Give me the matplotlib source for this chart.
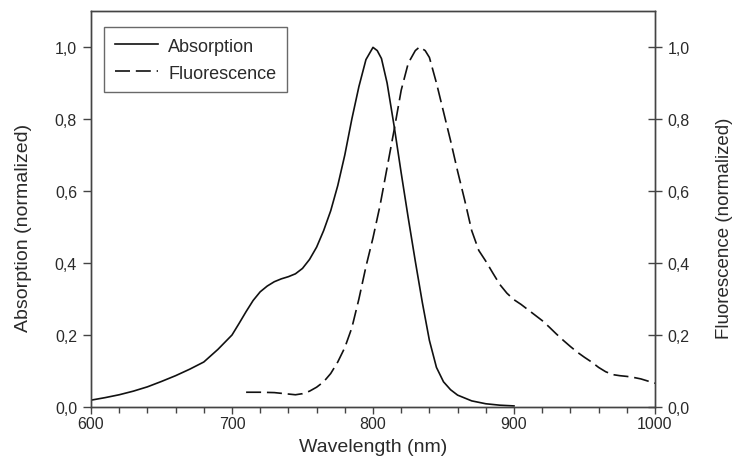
import matplotlib
matplotlib.use("Agg")
import matplotlib.pyplot as plt
from matplotlib.ticker import MultipleLocator

plt.rcParams['font.family'] = ['Liberation Sans', 'DejaVu Sans']

abs_wl = [600, 610, 620, 630, 640, 650, 660, 670, 680, 690, 700, 705, 710, 715, 720,
          725, 730, 735, 740, 745, 750, 755, 760, 765, 770, 775, 780, 785, 790, 795,
          800, 803, 806, 810, 815, 820, 825, 830, 835, 840, 845, 850, 855, 860, 870,
          880, 890, 900]
abs_val = [0.019, 0.026, 0.034, 0.044, 0.056, 0.071, 0.087, 0.105, 0.125, 0.16, 0.2,
           0.232, 0.265, 0.296, 0.32, 0.336, 0.348, 0.356, 0.362, 0.37, 0.385, 0.41,
           0.444, 0.49, 0.545, 0.615, 0.7, 0.8, 0.89, 0.965, 0.999, 0.99, 0.968,
           0.9, 0.78, 0.65, 0.525, 0.405, 0.29, 0.185, 0.11, 0.07, 0.048, 0.033,
           0.017, 0.009, 0.005, 0.003]

fl_wl = [710, 720, 730, 740, 745, 750, 755, 760, 765, 770, 775, 780, 785, 790, 795,
         800, 805, 810, 815, 820, 825, 830, 833, 837, 840, 845, 850, 855, 860, 865,
         870, 875, 880, 885, 890, 895, 900, 905, 910, 915, 920, 925, 930, 935, 940,
         945, 950, 955, 960, 965, 970, 975, 980, 985, 990, 995, 1000]
fl_val = [0.041, 0.041, 0.04, 0.036, 0.034, 0.037, 0.044, 0.055, 0.07, 0.093, 0.125,
          0.165, 0.22, 0.3, 0.39, 0.47, 0.56, 0.665, 0.77, 0.88, 0.955, 0.99, 1.0,
          0.99, 0.971, 0.9, 0.82, 0.74, 0.655, 0.575, 0.49, 0.435, 0.405, 0.372,
          0.34, 0.316, 0.298, 0.285, 0.27, 0.255, 0.24, 0.222, 0.203, 0.185, 0.168,
          0.152, 0.138, 0.125, 0.11, 0.098, 0.09, 0.087, 0.085, 0.082, 0.078, 0.072,
          0.066]

x_ticks = [600, 700, 800, 900, 1000]
y_ticks = [0.0, 0.2, 0.4, 0.6, 0.8, 1.0]
y_labels = ['0,0', '0,2', '0,4', '0,6', '0,8', '1,0']

txt = '#2a2a2a'
sp = '#444444'

fig = plt.figure(figsize=(7.36, 4.77), dpi=100)
ax = fig.add_axes([91/736, 69/477, (655-91)/736, (408-12)/477])
ax2 = ax.twinx()

l1, = ax.plot(abs_wl, abs_val, color='#111111', lw=1.2, label='Absorption')
l2, = ax2.plot(fl_wl, fl_val, color='#111111', lw=1.2, dashes=[9, 3.5], label='Fluorescence')

for a in (ax, ax2):
    a.set_xlim(600, 1000)
    a.set_ylim(0, 1.1)
    for s in a.spines.values():
        s.set_color(sp)
        s.set_linewidth(1.0)

ax.set_xticks(x_ticks)
ax.set_xticklabels([str(v) for v in x_ticks])
ax.xaxis.set_minor_locator(MultipleLocator(20))
ax.set_yticks(y_ticks)
ax.set_yticklabels(y_labels)
ax2.set_yticks(y_ticks)
ax2.set_yticklabels(y_labels)

ax.tick_params(axis='x', which='major', direction='out', length=5, width=1, color=sp,
               labelsize=11.5, labelcolor=txt, pad=1.5)
ax.tick_params(axis='x', which='minor', direction='out', length=4, width=1, color=sp)
ax.tick_params(axis='y', which='major', direction='out', length=6, width=1, color=sp,
               labelsize=11.5, labelcolor=txt, pad=4)
ax2.tick_params(axis='y', which='major', direction='inout', length=10, width=1, color=sp,
                labelsize=11.5, labelcolor=txt, pad=4)

ax.set_xlabel('Wavelength (nm)', fontsize=14, color=txt)
ax.set_ylabel('Absorption (normalized)', fontsize=14, color=txt)
ax2.set_ylabel('Fluorescence (normalized)', fontsize=13.5, color=txt)
ax.xaxis.set_label_coords(0.5, -0.078)
ax.yaxis.set_label_coords(-0.104, 0.455)
ax2.yaxis.set_label_coords(1.108, 0.455)

leg = ax.legend(handles=[l1, l2], loc='upper left', bbox_to_anchor=(0.023, 0.96),
                borderaxespad=0, fancybox=False, frameon=True, fontsize=13,
                handlelength=2.4, handletextpad=0.55, borderpad=0.6, labelspacing=0.55)
leg.get_frame().set_edgecolor(sp)
leg.get_frame().set_linewidth(1.0)
for t in leg.get_texts():
    t.set_color(txt)

fig.savefig('out.png', dpi=100)
